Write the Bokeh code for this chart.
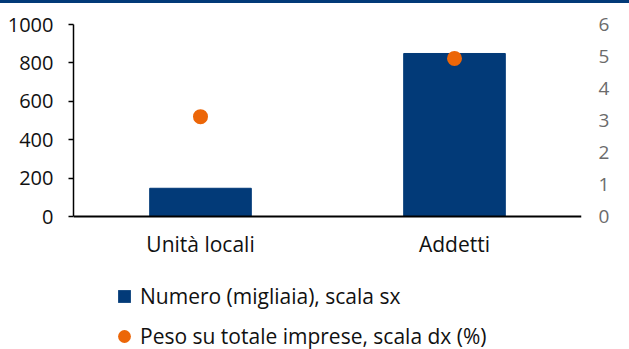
from bokeh.plotting import figure
from bokeh.models import (ColumnDataSource, FactorRange, Range1d, LinearAxis,
                          Legend, LegendItem, FixedTicker, Span)
from bokeh.core.properties import value
from bokeh.embed import file_html
from bokeh.resources import INLINE

categories = ["Unità locali", "Addetti"]
numero_migliaia = [147, 849]
peso_percento = [3.12, 4.94]
left_ticks = [0, 200, 400, 600, 800, 1000]
right_ticks = [0, 1, 2, 3, 4, 5, 6]

BLUE = "#023A78"
ORANGE = "#EC6608"
FONT = "Open Sans"

# frame: 1000 -> 192 px; the frame is extended 133 px below zero to host labels + legend
PX_PER_UNIT_L = 192 / 1000
EXT_PX = 133
Y_MIN_L = -EXT_PX / PX_PER_UNIT_L
Y_MIN_R = -EXT_PX * 6 / 192
LABEL_Y = -27 / PX_PER_UNIT_L

src = ColumnDataSource(dict(cat=categories, num=numero_migliaia, peso=peso_percento))

p = figure(x_range=FactorRange(*categories, range_padding=0.0),
           y_range=Range1d(Y_MIN_L, 1000),
           width=629, height=346, output_backend="svg", toolbar_location=None,
           x_axis_location=None,
           min_border_left=73, min_border_right=48, min_border_top=21,
           min_border_bottom=0,
           styles={"border-top": "3px solid #023A78"})
p.extra_y_ranges = {"dx": Range1d(Y_MIN_R, 6)}

p.xgrid.visible = False
p.ygrid.visible = False
p.outline_line_color = None
p.background_fill_color = "white"
p.border_fill_color = "white"

bars = p.vbar(x="cat", top="num", width=0.4, source=src, color=BLUE)
dots = p.scatter(x="cat", y="peso", source=src, y_range_name="dx",
                 size=15, color=ORANGE, line_color=None)
# legend proxy for the bars: a square marker of size 0 (invisible in the plot)
sq = p.scatter(x="cat", y="num", source=src, marker="square", size=0,
               color=BLUE, line_color=None)

# category axis: baseline + labels
p.add_layout(Span(location=0, dimension="width", line_color="black", line_width=2))
p.text(x="cat", y=LABEL_Y, text="cat", source=src,
       text_align="center", text_baseline="middle",
       text_font=value(FONT), text_font_size="21px", text_color="#111111")

# left axis
ya = p.yaxis[0]
ya.ticker = FixedTicker(ticks=left_ticks)
ya.bounds = (0, 1000)
ya.axis_line_color = "black"
ya.axis_line_width = 1.5
ya.major_tick_line_color = "black"
ya.major_tick_line_width = 1.5
ya.major_tick_out = 5
ya.major_tick_in = 0
ya.minor_tick_line_color = None
ya.major_label_standoff = 15
ya.major_label_text_font = FONT
ya.major_label_text_font_size = "20px"
ya.major_label_text_color = "#111111"

# right axis
ra = LinearAxis(y_range_name="dx", ticker=FixedTicker(ticks=right_ticks), bounds=(0, 6))
ra.axis_line_color = None
ra.major_tick_line_color = None
ra.minor_tick_line_color = None
ra.major_label_standoff = 11
ra.major_label_text_font = FONT
ra.major_label_text_font_size = "19px"
ra.major_label_text_color = "#6b6b6b"
p.add_layout(ra, "right")

legend = Legend(items=[LegendItem(label="Numero (migliaia), scala sx", renderers=[sq]),
                       LegendItem(label="Peso su totale imprese, scala dx (%)", renderers=[dots])],
                location=(35, -3), orientation="vertical",
                glyph_width=32, glyph_height=32, label_height=32,
                label_standoff=0, spacing=8, padding=0, margin=0,
                border_line_color=None, background_fill_alpha=0,
                label_text_font=FONT, label_text_font_size="21px",
                label_text_color="#111111")
p.add_layout(legend, "center")

open("out.html", "w").write(file_html(p, INLINE))
